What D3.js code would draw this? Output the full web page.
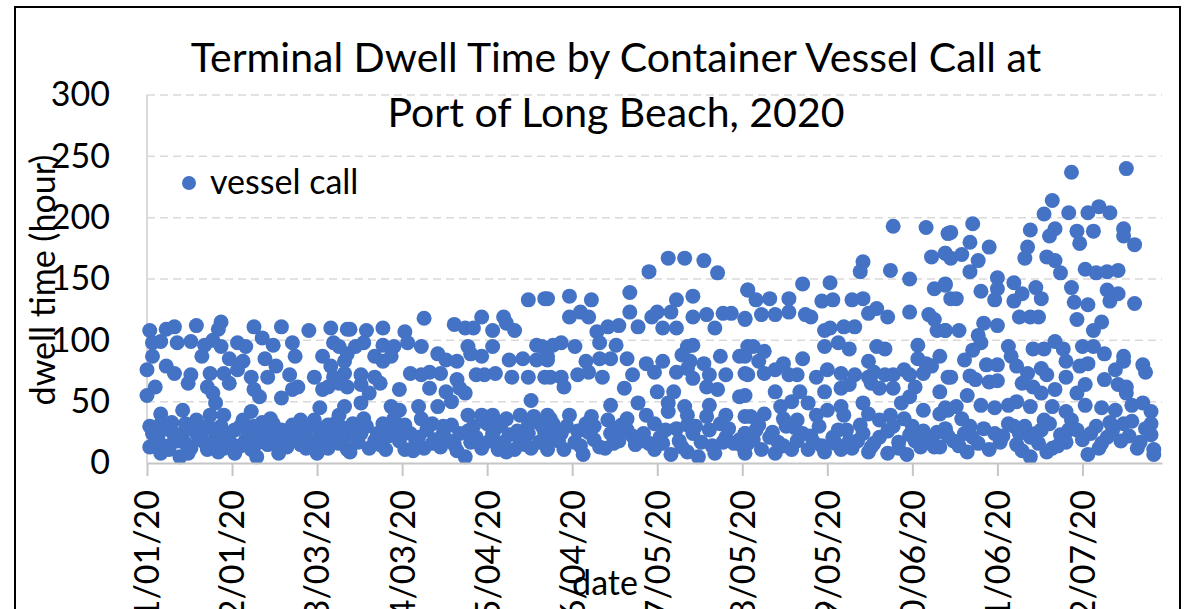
<!DOCTYPE html>
<html>
<head>
<meta charset="utf-8">
<script src="https://cdn.jsdelivr.net/npm/d3@7"></script>
<style>
body { margin: 0; background: #fff; }
text { font-family: Lato, "Open Sans", sans-serif; fill: #000; }
.grid line { stroke: #d9d9d9; stroke-width: 1.5; stroke-dasharray: 8,5; }
.xaxis path, .xaxis line { stroke: #c6c6c6; stroke-width: 2; }
</style>
</head>
<body>
<script>
// y axis ticks (hours)
var yTicks = [0, 50, 100, 150, 200, 250, 300];
// date axis ticks, every 31 days
var dateTicks = ["01/01/20", "02/01/20", "03/03/20", "04/03/20", "05/04/20", "06/04/20",
                 "07/05/20", "08/05/20", "09/05/20", "10/06/20", "11/06/20", "12/07/20"];

// [day of year (0 = Jan 1 2020), dwell time in hours]
var vesselCalls = [
  // Jan - mid Mar
  [1,108],[7,109],[10,111],[18,112],[27,115],[26,109],[39,111],[49,111],[59,108],[67,110],[73,109],
  [2,98],[5,99],[11,98],[16,99],[21,96],[24,100],[27,95],[33,98],[36,95],[42,102],[46,96],[53,98],[68,98],[70,95],
  [2,87],[20,87],[30,85],[35,83],[43,85],[54,87],[64,87],[73,89],
  [0,76],[7,79],[10,73],[16,72],[23,73],[28,73],[33,76],[38,70],[47,79],[44,70],[52,72],[61,70],[67,79],[72,73],[68,70],
  [3,62],[0,55],[15,65],[22,62],[30,65],[39,60],[41,54],[49,53],[53,60],[55,62],[64,60],[66,62],[70,65],[24,57],[25,49],
  [5,40],[13,43],[18,35],[23,39],[28,39],[38,42],[45,36],[56,35],[63,45],[61,35],[70,39],
  [2,24],[1,13],[5,8],[10,19],[8,11],[13,24],[16,12],[19,19],[22,11],[25,21],[28,12],[32,27],[32,8],[36,19],[38,11],
  [41,24],[44,15],[47,19],[49,27],[51,13],[55,20],[58,12],[58,27],[63,19],[66,12],[68,24],[70,16],[73,11],
  [5,32],[22,30],[46,32],[66,31],[12,5],[40,5],
  [3,17],[7,28],[14,16],[17,30],[20,25],[26,16],[30,18],[34,14],[39,30],[43,22],[52,24],[56,15],[60,18],[65,25],
  [71,29],[9,33],[27,30],[35,35],[48,8],[62,8],
  [1,30],[4,22],[6,14],[9,26],[11,18],[14,32],[15,8],[18,24],[21,17],[24,28],[26,9],[29,23],[31,15],[34,30],
  [37,25],[40,16],[42,33],[45,26],[48,14],[50,22],[53,31],[57,24],[59,17],[62,29],[64,14],[67,19],[69,33],[72,20],
  // mid Mar - May
  [74,109],[80,108],[86,110],[94,107],[101,118],[112,113],[116,110],[119,110],[122,119],[126,108],[130,119],[131,114],
  [134,108],[139,133],[145,134],
  [76,95],[79,98],[86,96],[90,95],[95,98],[100,95],[106,89],[117,95],[118,89],[122,87],[126,95],[142,96],
  [72,83],[83,87],[86,83],[89,87],[109,84],[113,83],[132,84],[137,85],[142,84],[146,87],
  [78,72],[83,70],[96,73],[100,72],[103,74],[107,73],[113,68],[120,72],[123,72],[127,73],[133,70],[139,70],[145,70],
  [73,62],[78,64],[85,65],[92,60],[103,61],[109,58],[114,61],[116,57],[81,57],
  [72,46],[78,49],[89,46],[92,43],[99,46],[106,46],[111,50],[140,51],[90,36],[79,36],[100,36],
  [117,39],[122,39],[126,39],[131,36],[136,39],[141,38],[146,39],
  [72,24],[78,24],[84,24],[90,27],[96,24],[102,27],[108,24],[114,24],[120,21],[126,24],[132,23],[139,24],[145,24],
  [74,9],[81,12],[87,11],[94,11],[101,12],[107,13],[112,15],[116,5],[122,12],[128,11],[134,11],[140,12],[146,11],
  [75,32],[86,32],[94,31],[104,32],[111,31],[119,30],[124,32],[129,31],[139,31],
  [77,17],[83,18],[92,18],[98,17],[105,19],[110,18],[118,17],[125,18],[130,17],[136,18],[143,17],
  [76,26],[80,30],[85,15],[88,22],[93,27],[97,10],[99,21],[104,16],[108,30],[113,10],[117,26],[121,17],[127,28],
  [131,9],[135,26],[138,15],[144,30],
  // late May - early Aug
  [190,167],[196,167],[203,165],[208,155],[183,156],[219,141],
  [146,134],[154,136],[162,133],[176,139],[193,133],[199,136],
  [154,119],[158,123],[161,119],[176,123],[179,111],[184,119],[186,123],[191,123],[188,110],[193,110],[199,119],
  [204,121],[207,110],[210,122],[213,122],[218,117],
  [164,107],[168,111],[172,112],[165,98],[171,96],
  [144,95],[148,96],[151,98],[156,95],[197,95],[199,96],[219,95],
  [146,84],[160,83],[165,85],[169,85],[175,85],[182,81],[188,83],[195,88],[198,83],[209,87],[216,87],
  [147,70],[151,70],[157,72],[161,74],[166,70],[177,72],[185,74],[193,74],[197,77],[203,81],[205,72],[211,72],
  [218,73],[199,69],
  [152,62],[174,61],[204,62],[208,60],[216,54],[186,58],[192,58],[190,49],[179,49],[169,47],[196,46],[205,47],
  [147,36],[154,39],[162,38],[168,35],[175,36],[182,39],[190,42],[197,39],[204,38],[211,39],[218,38],
  [145,27],[151,24],[157,26],[163,30],[169,24],[175,27],[181,24],[187,21],[193,28],[199,24],[205,27],[211,21],[218,24],
  [146,16],[152,11],[159,7],[165,13],[170,16],[178,15],[185,11],[191,7],[197,9],[201,5],[207,8],[214,16],[218,8],
  [148,32],[160,32],[173,31],[185,32],[197,31],[209,32],
  [150,18],[156,17],[163,19],[172,18],[180,18],[188,16],[194,18],[202,17],[210,17],[216,19],
  [149,21],[153,30],[158,14],[161,25],[167,12],[171,28],[177,22],[183,16],[189,27],[195,13],[200,30],[206,14],
  [212,28],[217,14],
  // Aug - mid Oct
  [272,193],[284,192],[292,187],[291,171],[286,168],[261,164],[260,156],[271,157],[278,150],[239,146],[249,147],
  [219,141],[222,133],[227,134],[234,134],[246,132],[250,133],[257,133],[261,134],[287,142],[291,146],[293,134],
  [266,126],[263,122],[270,119],[278,123],[218,118],[224,121],[229,121],[234,123],[240,121],[242,119],[285,121],
  [287,117],[288,108],[247,108],[249,110],[254,111],[258,111],[291,108],
  [221,95],[225,91],[247,95],[252,98],[256,93],[266,95],[269,93],[281,96],
  [218,87],[223,83],[232,81],[239,85],[263,83],[281,85],[284,81],[289,87],
  [219,72],[225,73],[229,76],[234,72],[237,72],[244,70],[248,76],[253,73],[258,72],[263,70],[265,74],[269,72],
  [272,72],[276,76],[278,72],[283,73],[286,79],[292,70],
  [218,55],[229,58],[238,58],[247,58],[253,61],[256,64],[264,65],[267,61],[272,61],[280,62],[289,58],
  [231,46],[235,50],[241,49],[253,46],[261,49],[275,49],[278,54],[291,45],
  [220,38],[225,40],[232,36],[237,35],[244,39],[248,43],[254,39],[263,40],[267,35],[271,39],[276,36],[283,43],[289,40],
  [218,24],[222,27],[227,21],[233,30],[239,24],[245,30],[250,21],[255,27],[261,24],[267,21],[272,30],[278,23],
  [283,26],[291,27],
  [219,16],[224,11],[229,8],[235,11],[241,11],[247,9],[253,11],[257,12],[263,9],[270,8],[277,7],[282,13],[287,13],
  [221,19],[230,17],[237,18],[243,17],[251,16],[259,18],[265,16],[274,17],[280,18],[286,20],
  [223,31],[228,25],[232,14],[236,29],[242,22],[246,14],[252,27],[256,18],[260,31],[264,13],[270,26],[274,12],
  [279,30],[284,17],[288,25],
  // mid Oct - Dec
  [337,237],[357,240],[330,214],[327,203],[336,204],[343,204],[347,209],[351,204],[301,195],[293,188],[322,190],
  [331,191],[329,185],[339,189],[345,189],[340,179],[356,191],[356,185],[360,178],[300,180],[307,176],[321,176],
  [320,167],[291,171],[293,167],[297,170],[303,165],[328,168],[331,165],[333,155],[342,158],[346,155],[350,156],
  [354,157],[300,156],
  [291,145],[295,134],[304,140],[310,151],[310,142],[309,133],[316,147],[316,132],[319,138],[324,143],[326,134],
  [337,143],[338,131],[343,129],[350,141],[351,132],[354,138],[360,130],
  [318,119],[322,119],[325,119],[339,117],[348,115],[345,108],[310,112],[305,114],
  [291,108],[296,108],[303,104],[304,98],[314,95],[323,93],[327,93],[331,99],[334,93],[341,95],[345,95],[349,89],
  [356,87],[363,80],[364,74],[301,92],[298,84],[306,80],[310,80],[315,87],[317,79],[321,73],[335,83],[340,79],
  [343,81],[326,77],[328,72],[353,76],[356,83],
  [293,70],[300,71],[302,68],[307,66],[310,67],[319,65],[323,62],[326,57],[331,60],[335,70],[339,57],[342,64],
  [349,68],[354,64],[357,62],[357,57],
  [299,55],[304,47],[309,45],[314,47],[317,50],[322,46],[330,46],[335,42],[342,47],[348,45],[353,43],[359,47],
  [363,49],[366,42],[292,43],[295,46],
  [291,28],[297,36],[298,24],[301,21],[305,28],[309,24],[314,32],[318,24],[320,30],[322,21],[326,27],[329,32],
  [333,23],[337,35],[339,27],[346,30],[350,21],[352,27],[356,32],[359,34],[366,32],[366,23],
  [289,13],[299,9],[317,15],[322,5],[328,9],[330,12],[343,7],[367,7],[367,11],
  [294,18],[303,16],[311,17],[325,16],[335,17],[341,19],[348,16],[355,18],[362,17],
  [292,22],[296,14],[300,30],[307,11],[312,22],[316,30],[319,10],[324,24],[327,35],[332,14],[336,27],[344,24],
  [347,12],[351,33],[358,22],[361,12],[364,28]
];

var width = 1184, height = 609;
var plot = {left: 147, right: 1162, top: 95, bottom: 463};
var t0 = Date.UTC(2020, 0, 1);
var parseDate = d3.utcParse("%m/%d/%y");

var x = d3.scaleUtc()
    .domain([new Date(t0), new Date(Date.UTC(2021, 0, 5))])
    .range([plot.left, plot.right]);
var y = d3.scaleLinear().domain([0, 300]).range([plot.bottom, plot.top]);

var svg = d3.select("body").append("svg")
    .attr("width", width)
    .attr("height", height);

svg.append("rect").attr("width", width).attr("height", height).attr("fill", "#fff");

// chart border (runs off the bottom of the picture)
svg.append("rect")
    .attr("x", 15).attr("y", 7)
    .attr("width", 1165).attr("height", 700)
    .attr("fill", "none").attr("stroke", "#000").attr("stroke-width", 2);

// horizontal gridlines
svg.append("g").attr("class", "grid")
  .selectAll("line")
  .data(yTicks.filter(function(d) { return d > 0; }))
  .enter().append("line")
    .attr("x1", plot.left).attr("x2", plot.right)
    .attr("y1", function(d) { return y(d); })
    .attr("y2", function(d) { return y(d); });

// left axis line
svg.append("line")
    .attr("x1", plot.left).attr("x2", plot.left)
    .attr("y1", plot.top).attr("y2", plot.bottom)
    .attr("stroke", "#d9d9d9").attr("stroke-width", 2);

// y axis labels
var yAxis = svg.append("g")
    .attr("transform", "translate(" + plot.left + ",0)")
    .call(d3.axisLeft(y).tickValues(yTicks).tickSize(0).tickPadding(37));
yAxis.select(".domain").remove();
yAxis.selectAll("text").style("font-size", "34px").style("font-family", "Lato");

// points
svg.append("g")
  .selectAll("circle")
  .data(vesselCalls)
  .enter().append("circle")
    .attr("cx", function(d) { return x(new Date(t0 + d[0] * 864e5)); })
    .attr("cy", function(d) { return y(d[1]); })
    .attr("r", 7.5)
    .attr("fill", "#4472c4");

// date axis
var xAxis = svg.append("g")
    .attr("class", "xaxis")
    .attr("transform", "translate(0," + plot.bottom + ")")
    .call(d3.axisBottom(x)
      .tickValues(dateTicks.map(parseDate))
      .tickFormat(d3.utcFormat("%m/%d/%y"))
      .tickSize(13).tickSizeOuter(0));
xAxis.selectAll("text")
    .attr("transform", "rotate(-90)")
    .attr("text-anchor", "end")
    .attr("x", -27).attr("y", 0).attr("dy", "0.35em")
    .style("font-size", "34px").style("font-family", "Lato");

// titles
svg.append("text")
    .attr("x", 616).attr("y", 72)
    .attr("text-anchor", "middle")
    .style("font-size", "41px")
    .text("Terminal Dwell Time by Container Vessel Call at");
svg.append("text")
    .attr("x", 616).attr("y", 127)
    .attr("text-anchor", "middle")
    .style("font-size", "41px")
    .text("Port of Long Beach, 2020");

svg.append("text")
    .attr("transform", "translate(55,280) rotate(-90)")
    .attr("text-anchor", "middle")
    .style("font-size", "34px")
    .text("dwell time (hour)");

svg.append("text")
    .attr("x", 605).attr("y", 595)
    .attr("text-anchor", "middle")
    .style("font-size", "34px")
    .text("date");

// legend
svg.append("circle").attr("cx", 189).attr("cy", 183).attr("r", 7).attr("fill", "#4472c4");
svg.append("text")
    .attr("x", 210).attr("y", 194)
    .style("font-size", "34px")
    .text("vessel call");
</script>
</body>
</html>
